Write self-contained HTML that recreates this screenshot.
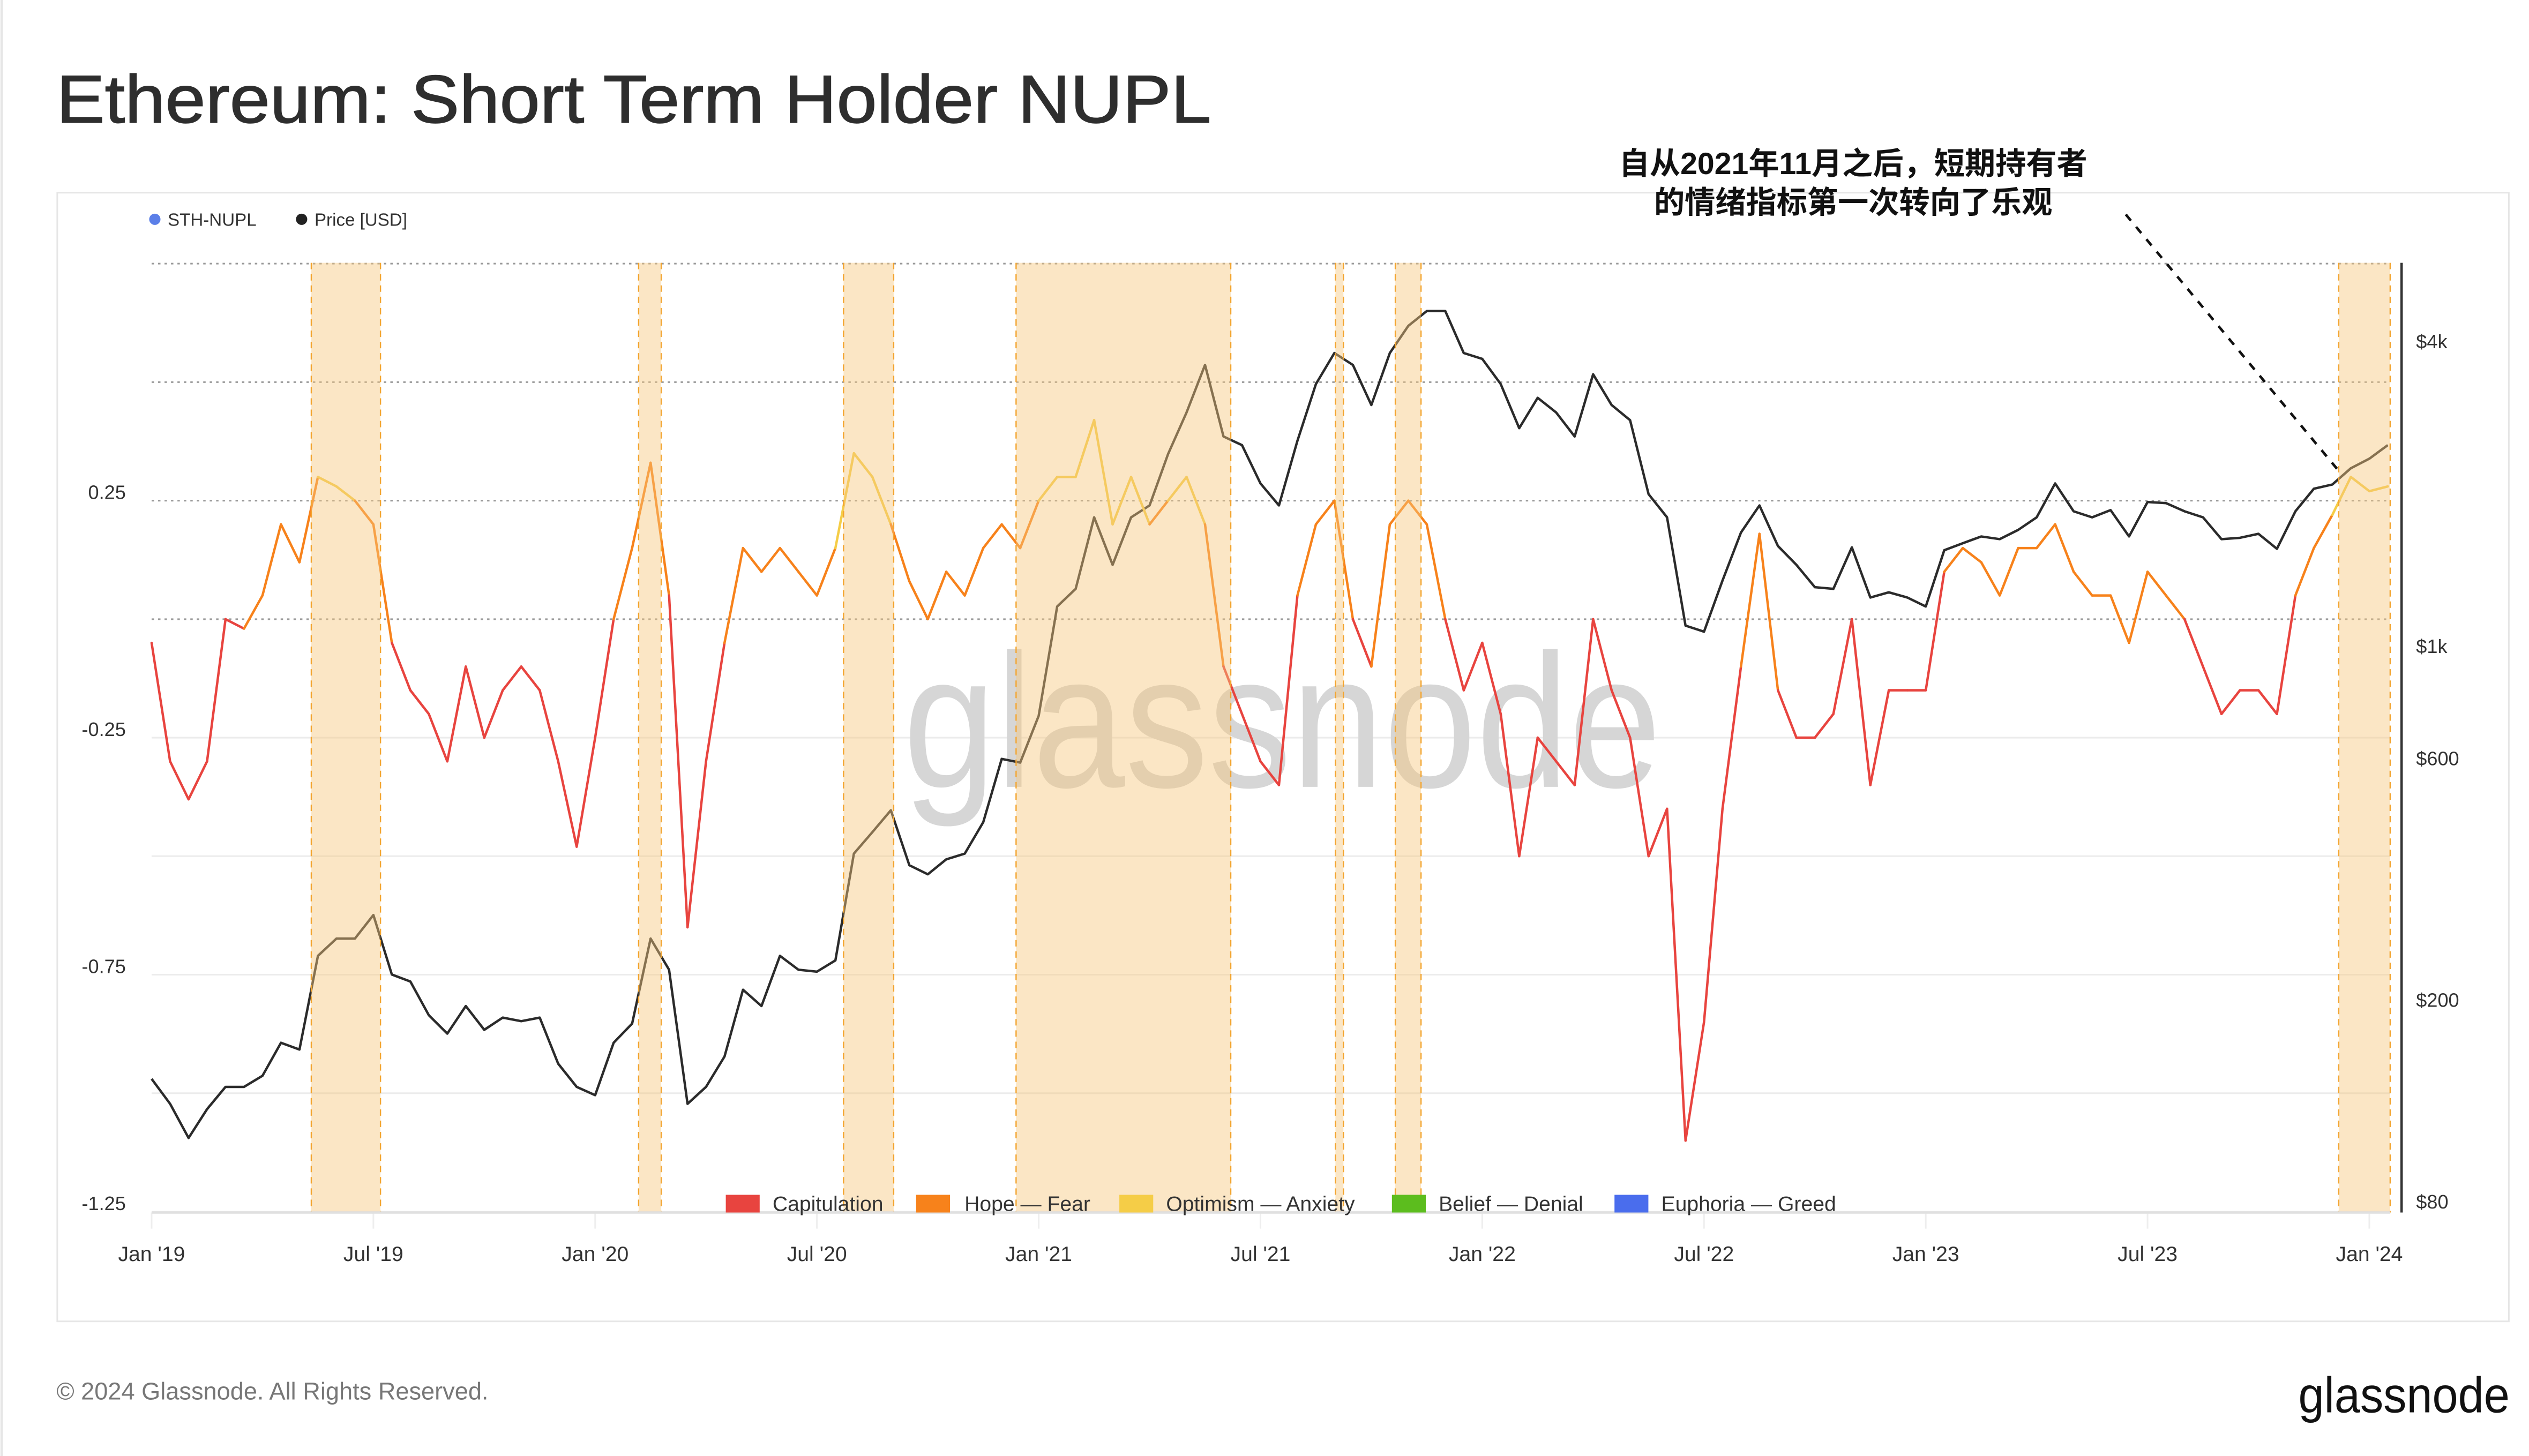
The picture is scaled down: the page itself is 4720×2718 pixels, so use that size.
<!DOCTYPE html>
<html><head><meta charset="utf-8">
<style>
html,body{margin:0;padding:0;background:#fff;}
svg{display:block;font-family:"Liberation Sans","Noto Sans CJK SC",sans-serif;}
</style></head>
<body>
<svg id="chart" width="4720" height="2718" viewBox="0 0 1568 903" preserveAspectRatio="none" xmlns="http://www.w3.org/2000/svg">
<rect x="0" y="0" width="1568" height="903" fill="#fff"/>
<line x1="1" y1="0" x2="1" y2="903" stroke="#e6e6e6" stroke-width="1.5"/>
<text x="35" y="76" font-size="42" fill="#2e2e2e" stroke="#2e2e2e" stroke-width="0.5" textLength="716" lengthAdjust="spacingAndGlyphs">Ethereum: Short Term Holder NUPL</text>
<rect x="35.5" y="119.5" width="1520" height="700" fill="none" stroke="#e6e6e6" stroke-width="1"/>
<g>
<circle cx="96" cy="136" r="3.5" fill="#5b7fe8"/>
<text x="104" y="140" font-size="11" fill="#333">STH-NUPL</text>
<circle cx="187" cy="136" r="3.5" fill="#222"/>
<text x="195" y="140" font-size="11" fill="#333">Price [USD]</text>
</g>
<g id="grid"></g>
<text x="795" y="488" font-size="118" fill="#d6d6d6" text-anchor="middle" textLength="470" lengthAdjust="spacingAndGlyphs">glassnode</text>
<g id="series"></g>
<g id="bands"></g>
<g id="axes"></g>
<g font-size="13" fill="#333">
<rect x="450" y="741" width="21" height="11" fill="#e8443f"/>
<text x="479" y="751">Capitulation</text>
<rect x="568" y="741" width="21" height="11" fill="#f7821b"/>
<text x="598" y="751">Hope — Fear</text>
<rect x="694" y="741" width="21" height="11" fill="#f5cd47"/>
<text x="723" y="751">Optimism — Anxiety</text>
<rect x="863" y="741" width="21" height="11" fill="#5cbd1e"/>
<text x="892" y="751">Belief — Denial</text>
<rect x="1001" y="741" width="21" height="11" fill="#4a6ded"/>
<text x="1030" y="751">Euphoria — Greed</text>
</g>
<g>
<text x="1149" y="108" font-size="19" font-weight="bold" fill="#111" text-anchor="middle" font-family="'Liberation Sans','Noto Sans CJK SC',sans-serif">自从2021年11月之后，短期持有者</text>
<text x="1149" y="132" font-size="19" font-weight="bold" fill="#111" text-anchor="middle" font-family="'Liberation Sans','Noto Sans CJK SC',sans-serif">的情绪指标第一次转向了乐观</text>
<line x1="1318" y1="133" x2="1450" y2="292" stroke="#111" stroke-width="1.6" stroke-dasharray="5,5"/>
</g>
<text x="35" y="868" font-size="15" fill="#777">© 2024 Glassnode. All Rights Reserved.</text>
<text x="1556" y="876" font-size="31" fill="#111" text-anchor="end" textLength="131" lengthAdjust="spacingAndGlyphs">glassnode</text>
</svg>
<script>
// semi-monthly samples starting 2019-01-01
const startYear = 2019;
const xTicks = ["Jan '19","Jul '19","Jan '20","Jul '20","Jan '21","Jul '21","Jan '22","Jul '22","Jan '23","Jul '23","Jan '24"];
const leftTicks = [0.25,-0.25,-0.75,-1.25];
const rightTicks = [4000,1000,600,200,80];
const rightTickLabels = ["$4k","$1k","$600","$200","$80"];
const price = [
140,125,107,122,135,135,142,165,160,245,265,265,295,225,218,187,172,195,175,185,182,185,150,135,
130,165,180,265,230,125,135,155,210,195,245,230,228,240,390,430,475,370,355,380,390,450,600,590,
730,1200,1300,1800,1450,1800,1900,2400,2900,3600,2600,2500,2100,1900,2550,3300,3800,3600,3000,3800,4300,4600,4600,3800,
3700,3300,2700,3100,2900,2600,3450,3000,2800,2000,1800,1100,1070,1350,1680,1900,1580,1450,1310,1300,1570,1250,1280,1250,
1200,1550,1600,1650,1630,1700,1800,2100,1850,1800,1860,1650,1930,1920,1850,1800,1630,1640,1670,1560,1850,2050,2090,2250,
2350,2500];
const nupl = [
-0.05,-0.3,-0.38,-0.3,0.0,-0.02,0.05,0.2,0.12,0.3,0.28,0.25,0.2,-0.05,-0.15,-0.2,-0.3,-0.1,-0.25,-0.15,-0.1,-0.15,-0.3,-0.48,
-0.25,0.0,0.15,0.33,0.05,-0.65,-0.3,-0.05,0.15,0.1,0.15,0.1,0.05,0.15,0.35,0.3,0.2,0.08,0.0,0.1,0.05,0.15,0.2,0.15,
0.25,0.3,0.3,0.42,0.2,0.3,0.2,0.25,0.3,0.2,-0.1,-0.2,-0.3,-0.35,0.05,0.2,0.25,0.0,-0.1,0.2,0.25,0.2,0.0,-0.15,
-0.05,-0.2,-0.5,-0.25,-0.3,-0.35,0.0,-0.15,-0.25,-0.5,-0.4,-1.1,-0.85,-0.4,-0.1,0.18,-0.15,-0.25,-0.25,-0.2,0.0,-0.35,-0.15,-0.15,
-0.15,0.1,0.15,0.12,0.05,0.15,0.15,0.2,0.1,0.05,0.05,-0.05,0.1,0.05,0.0,-0.1,-0.2,-0.15,-0.15,-0.2,0.05,0.15,0.22,0.3,
0.27,0.28];
// shaded optimism periods, in decimal years
const bandStart = [2019.36,2020.098,2020.56,2020.949,2021.669,2021.804,2023.931];
const bandEnd   = [2019.516,2020.149,2020.673,2021.433,2021.687,2021.862,2024.047];

const X0=94, XPY=275, PL=94, PR=1482, PT=163, PB=752;
const xs = t => X0 + (t - startYear) * XPY;
const yL = v => 384 - v * 294;
const yR = p => 401 - (Math.log10(p) - 3) * 314;
const tOf = i => startYear + i / 24;
const NS='http://www.w3.org/2000/svg';
function mk(tag, attrs, parent){const e=document.createElementNS(NS,tag);for(const k in attrs)e.setAttribute(k,attrs[k]);parent.appendChild(e);return e;}
const grid=document.getElementById('grid'), series=document.getElementById('series'), bands=document.getElementById('bands'), axes=document.getElementById('axes');

for(let v=0.75; v>=-1.25; v-=0.25){
  const y=yL(v);
  const g=mk('line',{x1:PL,x2:PR,y1:y,y2:y,stroke:(v>=0?'#9a9a9a':'#ececec'),'stroke-width':1,'stroke-dasharray':(v>=0?'1.5,2.5':'none')},grid);
  
  
}
xTicks.forEach((lab,i)=>{
  const x=xs(startYear+i*0.5);
  const l=mk('line',{x1:x,x2:x,y1:PB,y2:PB+10,stroke:'#eee','stroke-width':1},grid);
  
  
});

let d='';
price.forEach((p,i)=>{d+=(i?'L':'M')+xs(tOf(i)).toFixed(2)+','+yR(p).toFixed(2);});
const pl=mk('path',{d:d,fill:'none',stroke:'#2b2b2b','stroke-width':1.5,'stroke-linejoin':'round'},series);



function col(v){return v<0?'#e8443f':v<0.25?'#f7821b':v<0.5?'#f5cd47':v<0.75?'#5cbd1e':'#4a6ded';}
for(let i=0;i<nupl.length-1;i++){
  const s=mk('line',{x1:xs(tOf(i)),y1:yL(nupl[i]),x2:xs(tOf(i+1)),y2:yL(nupl[i+1]),stroke:col((nupl[i]+nupl[i+1])/2),'stroke-width':1.5,'stroke-linecap':'round'},series);
  
  
}

bandStart.forEach((s,i)=>{
  const x1=xs(s), x2=xs(bandEnd[i]);
  const r=mk('rect',{x:x1,y:PT,width:x2-x1,height:PB-PT,fill:'#f7c77e','fill-opacity':0.45},bands);
  
  
  [x1,x2].forEach(x=>{
    const l=mk('line',{x1:x,x2:x,y1:PT,y2:PB,stroke:'#f3a530','stroke-width':0.8,'stroke-dasharray':'4,3'},bands);
    
    
  });
});

const ra=mk('line',{x1:1489,x2:1489,y1:PT,y2:PB,stroke:'#333','stroke-width':1.5},axes);


const ba=mk('line',{x1:PL,x2:PR,y1:PB,y2:PB,stroke:'#e0e0e0','stroke-width':1.5},axes);


leftTicks.forEach(v=>{
  const t=mk('text',{x:78,y:yL(v)-1,'font-size':12,fill:'#333','text-anchor':'end'},axes);
  t.textContent=v.toFixed(2);
  
  
});
rightTicks.forEach((p,i)=>{
  const t=mk('text',{x:1498,y:yR(p)+4,'font-size':12,fill:'#333'},axes);
  t.textContent=rightTickLabels[i];
  
  
});
xTicks.forEach((lab,i)=>{
  const t=mk('text',{x:xs(startYear+i*0.5),y:782,'font-size':13,fill:'#333','text-anchor':'middle'},axes);
  t.textContent=lab;
  
  
});
</script>
</body></html>
